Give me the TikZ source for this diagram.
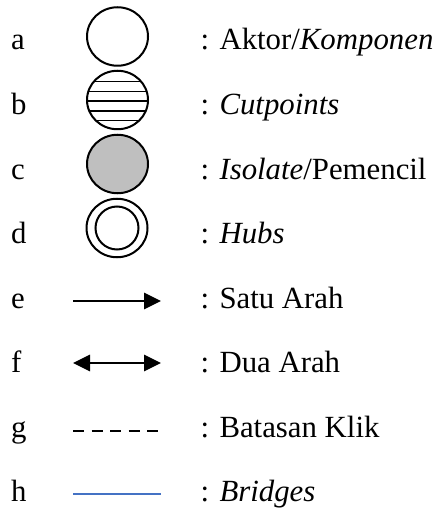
\documentclass[tikz,border=0pt]{standalone}
\usepackage{fontspec}
\setmainfont{Liberation Serif}
\usetikzlibrary{arrows.meta,shapes.geometric}
\definecolor{bridgeblue}{RGB}{68,114,196}
\begin{document}
\begin{tikzpicture}[x=1pt,y=-1pt,
		every node/.style={inner sep=0pt,font=\fontsize{30.8}{37}\selectfont},
		key/.style={anchor=base west},
		symb/.style={draw,ellipse,line width=2pt,minimum width=61pt,minimum height=58.5pt},
		tip/.style={line width=1.4pt},
		bigtri/.tip={Triangle[length=17pt,width=16.5pt]}]
		\useasboundingbox (0,0) rectangle (439,510);
		\path
			 (11,  50)    node[key] (ka) {a}
			++(0,  64.57) node[key] (kb) {b}
			++(0,  64.57) node[key] (kc) {c}
			++(0,  64.57) node[key] (kd) {d}
			++(0,  64.57) node[key] (ke) {e}
			++(0,  64.57) node[key] (kf) {f}
			++(0,  64.57) node[key] (kg) {g}
			++(0,  64.57) node[key] (kh) {h}
		;
		\path
			 (200.5, 50)    node[key] (aktor)   {: Aktor/\textit{Komponen}}
			++(0,    64.57) node[key] (cutp)    {: \textit{Cutpoints}}
			++(0,    64.57) node[key] (isol)    {: \textit{Isolate}/Pemencil}
			++(0,    64.57) node[key] (hubs)    {: \textit{Hubs}}
			++(0,    64.57) node[key] (satu)    {: Satu Arah}
			++(0,    64.57) node[key] (dua)     {: Dua Arah}
			++(0,    64.57) node[key] (klik)    {: Batasan Klik}
			++(0,    64.57) node[key] (bridges) {: \textit{Bridges}}
		;
		\node[symb]                  (circa) at (117.5, 36.5) {};
		\node[symb,path picture={
			\foreach \dy in {18.3,8.3,-1,-11,-20.7}
				\draw[line width=1.3pt] ([yshift=\dy pt]path picture bounding box.west)
					-- ([yshift=\dy pt]path picture bounding box.east);
		}]                           (circb) at (117.5,100)   {};
		\node[symb,fill=black!25]    (circc) at (117.5,164)   {};
		\node[symb]                  (circd) at (117,  228)   {};
		\node[draw,circle,line width=2pt,minimum size=43pt] (circdin) at (circd) {};
		\coordinate (e1) at ( 73,301);   \coordinate (e2) at (161,301);
		\coordinate (f1) at ( 73,363);   \coordinate (f2) at (161,363);
		\coordinate (g1) at ( 73,431);   \coordinate (g2) at (158,431);
		\coordinate (h1) at ( 73,494);   \coordinate (h2) at (161,494);
		\draw[tip,-bigtri]       (e1) -- (e2);
		\draw[tip,bigtri-bigtri] (f1) -- (f2);
		\draw[line width=2pt,dash pattern=on 11pt off 7.5pt] (g1) -- (g2);
		\draw[line width=2pt,bridgeblue] (h1) -- (h2);
	\end{tikzpicture}
\end{document}
